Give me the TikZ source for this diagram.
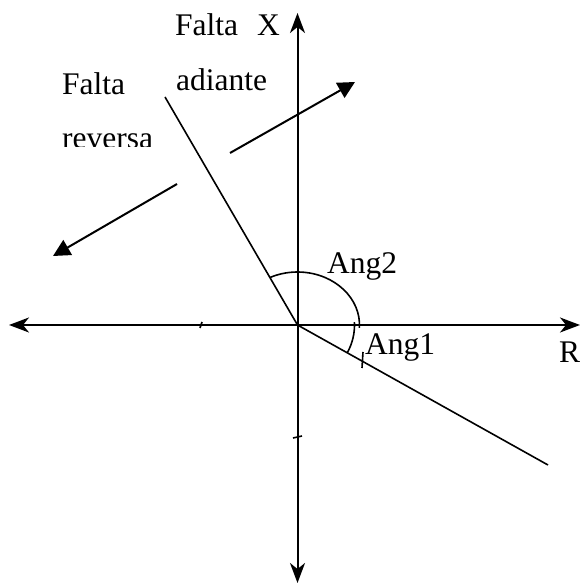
\documentclass[tikz,border=0pt]{standalone}
\usepackage{fontspec}
\setmainfont{Liberation Serif}
\usetikzlibrary{arrows.meta}
\begin{document}
\begin{tikzpicture}[x=1pt,y=1pt,
  axis/.style={line width=2pt,{Stealth[length=20pt,width=15pt,inset=6pt]}-{Stealth[length=20pt,width=15pt,inset=6pt]}},
  thin line/.style={line width=1.6pt},
  dirarrow/.style={line width=2pt,-{Triangle[length=17pt,width=17pt]}},
  lbl/.style={inner sep=0pt,anchor=base west,font=\fontsize{31.5}{36}\selectfont},
  tick/.style={line width=1.6pt}]
\useasboundingbox (0,0) rectangle (581,584);
% coordinates
\coordinate (O) at (297.5,259);
\coordinate (top) at (297.5,571);
\coordinate (bot) at (297.5,1);
\coordinate (left) at (9,259);
\coordinate (right) at (580,259);
\coordinate (upl) at (165,487);
\coordinate (lowr) at (548,119);
\coordinate (adA) at (230,431);
\coordinate (adB) at (355,502);
\coordinate (reA) at (177,400);
\coordinate (reB) at (53,328);
% axes
\draw[axis] (bot) -- (top);
\draw[axis] (left) -- (right);
% characteristic lines
\draw[thin line] (upl) -- (O) -- (lowr);
% direction arrows
\draw[dirarrow] (adA) -- (adB);
\draw[dirarrow] (reA) -- (reB);
% angle arcs
\draw[thin line] ([shift={(-3:62 and 53)}]O) arc[start angle=-3,end angle=116,x radius=62,y radius=53];
\draw[thin line] ([shift={(3:57)}]O) arc[start angle=3,end angle=-29,radius=57];
% small ticks
\coordinate (t1a) at (202,262); \coordinate (t1b) at (200,256);
\coordinate (t2a) at (293,146); \coordinate (t2b) at (302,148);
\coordinate (t3a) at (363,232); \coordinate (t3b) at (362,216);
\draw[tick] (t1a) -- (t1b);
\draw[tick] (t2a) -- (t2b);
\draw[tick] (t3a) -- (t3b);
% labels
\node[lbl] (faltaX) at (175,548) {Falta};
\node[lbl] (X) at (257,548) {X};
\node[lbl] (adiante) at (176,493) {adiante};
\node[lbl] (falta2) at (62,489) {Falta};
\begin{scope}
\clip (0,437) rectangle (300,584);
\node[lbl] (reversa) at (62,435) {reversa};
\end{scope}
\node[lbl] (ang2) at (327,310) {Ang2};
\node[lbl] (ang1) at (365,229) {Ang1};
\node[lbl] (R) at (559,221) {R};
\end{tikzpicture}
\end{document}
